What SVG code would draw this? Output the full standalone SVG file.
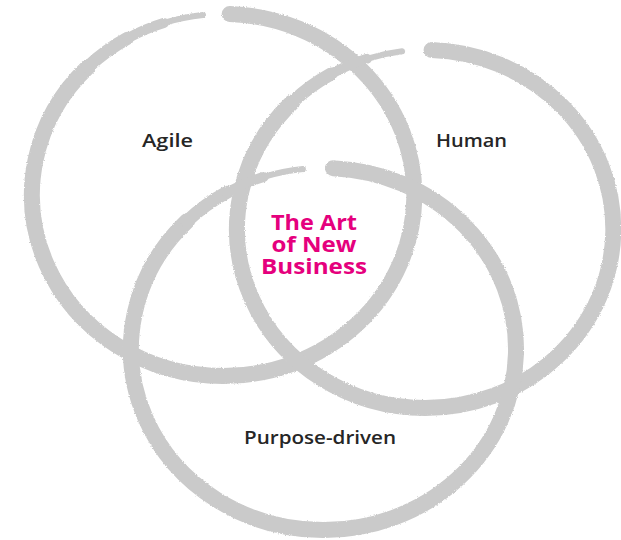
<svg xmlns="http://www.w3.org/2000/svg" width="621" height="540" viewBox="0 0 621 540">
<defs>
<filter id="rough" x="-5%" y="-5%" width="110%" height="110%">
<feTurbulence type="fractalNoise" baseFrequency="0.9" numOctaves="2" seed="3" result="n"/>
<feDisplacementMap in="SourceGraphic" in2="n" scale="2.5" xChannelSelector="R" yChannelSelector="G"/>
</filter>
<style>
.ring path{fill:none;stroke:#cacaca;stroke-linecap:round}
.w16{stroke-width:16}
.w13{stroke-width:13}
.w10{stroke-width:10}
.w6{stroke-width:6}
.lbl{font-family:"Open Sans","Liberation Sans",sans-serif;font-size:18px;font-weight:600;fill:#262626;text-anchor:middle}
.ctr{font-family:"Open Sans","Liberation Sans",sans-serif;font-size:21px;font-weight:700;fill:#e5007d;text-anchor:middle}
</style>
</defs>
<rect width="621" height="540" fill="#fff"/>
<g id="connectors"/>
<g id="agile">
<g class="ring" filter="url(#rough)">
<path class="w16" d="M229.7 14.1 A191 181 0 0 1 223 376 A191 181 0 0 1 87.9 67"/>
<path class="w13" d="M87.9 67 A191 181 0 0 1 127.5 38.3"/>
<path class="w10" d="M127.5 38.3 A191 181 0 0 1 164 22.9"/>
<path class="w6" d="M164 22.9 A191 181 0 0 1 203 15"/>
</g>
<text class="lbl" x="167.5" y="147" textLength="51" lengthAdjust="spacingAndGlyphs">Agile</text>
</g>
<g id="human">
<g class="ring" filter="url(#rough)">
<path class="w16" d="M431.6 50.1 A188 179 0 0 1 425 408 A188 179 0 0 1 292.1 102.4"/>
<path class="w13" d="M292.1 102.4 A188 179 0 0 1 331 74"/>
<path class="w10" d="M331 74 A188 179 0 0 1 366.9 58.8"/>
<path class="w6" d="M366.9 58.8 A188 179 0 0 1 402.1 51.3"/>
</g>
<text class="lbl" x="471.5" y="147" textLength="71" lengthAdjust="spacingAndGlyphs">Human</text>
</g>
<g id="purpose">
<g class="ring" filter="url(#rough)">
<path class="w16" d="M333 168.2 A192 181 0 0 1 323 530 A192 181 0 0 1 187.2 221"/>
<path class="w13" d="M187.2 221 A192 181 0 0 1 227 192.3"/>
<path class="w10" d="M227 192.3 A192 181 0 0 1 263.7 176.9"/>
<path class="w6" d="M263.7 176.9 A192 181 0 0 1 302.9 169"/>
</g>
<text class="lbl" x="320" y="444" textLength="152" lengthAdjust="spacingAndGlyphs">Purpose-driven</text>
</g>
<g id="center">
<text class="ctr" x="314" y="230" textLength="86" lengthAdjust="spacingAndGlyphs">The Art</text>
<text class="ctr" x="314" y="252" textLength="85" lengthAdjust="spacingAndGlyphs">of New</text>
<text class="ctr" x="314" y="274" textLength="106" lengthAdjust="spacingAndGlyphs">Business</text>
</g>
</svg>
